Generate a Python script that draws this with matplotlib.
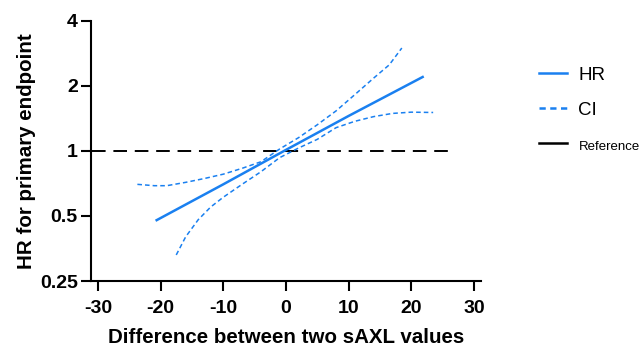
import matplotlib.pyplot as plt
from matplotlib.lines import Line2D
from matplotlib.ticker import FixedLocator, NullLocator

plt.rcParams['font.family'] = ['Liberation Sans', 'DejaVu Sans']

# HR curve (straight on log scale)
hr_x = [-20.8, -10, 0, 10, 22.0]
hr_y = [0.475, 0.70, 1.01, 1.45, 2.21]

# upper confidence limit
ci_up_x = [-23.7, -21, -19, -16, -13, -10, -7, -4, -1, 2, 5, 8, 11, 14, 16.5, 18.5]
ci_up_y = [0.70, 0.69, 0.69, 0.715, 0.745, 0.78, 0.83, 0.89, 1.02, 1.15, 1.32, 1.53, 1.82, 2.17, 2.50, 2.99]

# lower confidence limit
ci_lo_x = [-17.5, -16, -14, -12, -10, -7, -4, -1, 2, 5, 8, 11, 14, 17, 20, 23.5]
ci_lo_y = [0.33, 0.40, 0.48, 0.55, 0.61, 0.70, 0.80, 0.93, 1.03, 1.13, 1.28, 1.37, 1.44, 1.49, 1.51, 1.505]

ref_x = [-31, 25.8]
ref_y = [1, 1]

x_ticks = [-30, -20, -10, 0, 10, 20, 30]
y_ticks = [0.25, 0.5, 1, 2, 4]
y_labels = ['0.25', '0.5', '1', '2', '4']

blue = '#1a80f0'

fig = plt.figure(figsize=(6.41, 3.48), dpi=100)
ax = fig.add_axes([0.142, 0.1925, 0.609, 0.748])

ax.plot(ref_x, ref_y, color='black', lw=1.4, dashes=(7, 4), zorder=1)
ax.plot(hr_x, hr_y, color=blue, lw=1.8, solid_capstyle='butt', zorder=3)
ax.plot(ci_up_x, ci_up_y, color=blue, lw=1.1, dashes=(3, 2), zorder=2)
ax.plot(ci_lo_x, ci_lo_y, color=blue, lw=1.1, dashes=(3, 2), zorder=2)

ax.set_yscale('log', base=2)
ax.set_ylim(0.25, 4)
ax.set_xlim(-31.1, 31.2)
ax.yaxis.set_major_locator(FixedLocator(y_ticks))
ax.yaxis.set_minor_locator(NullLocator())
ax.set_yticklabels(y_labels)
ax.set_xticks(x_ticks)
ax.set_xticklabels([str(t) for t in x_ticks])

for s in ['top', 'right']:
    ax.spines[s].set_visible(False)
for s in ['left', 'bottom']:
    ax.spines[s].set_linewidth(1.5)

ax.tick_params(axis='both', length=7.5, width=1.5, labelsize=14)
ax.tick_params(axis='x', pad=6)
ax.tick_params(axis='y', pad=2)
for lab in ax.get_xticklabels() + ax.get_yticklabels():
    lab.set_fontweight('bold')

ax.set_xlabel('Difference between two sAXL values', fontsize=14.8, fontweight='bold', labelpad=8)
ax.set_ylabel('HR for primary endpoint', fontsize=14.8, fontweight='bold', labelpad=3)

handles = [
    Line2D([], [], color=blue, lw=1.8),
    Line2D([], [], color=blue, lw=1.8, dashes=(2.5, 1.8)),
    Line2D([], [], color='black', lw=1.8),
]
leg = ax.legend(handles, ['HR', 'CI', 'Reference'], loc='upper left',
                bbox_to_anchor=(0.841, 0.808), bbox_transform=fig.transFigure,
                frameon=False, fontsize=13.5, handlelength=1.5, handletextpad=0.6,
                labelspacing=0.95, borderaxespad=0, borderpad=0)
leg.get_texts()[2].set_fontsize(9.5)

fig.savefig('out.png', dpi=100)
